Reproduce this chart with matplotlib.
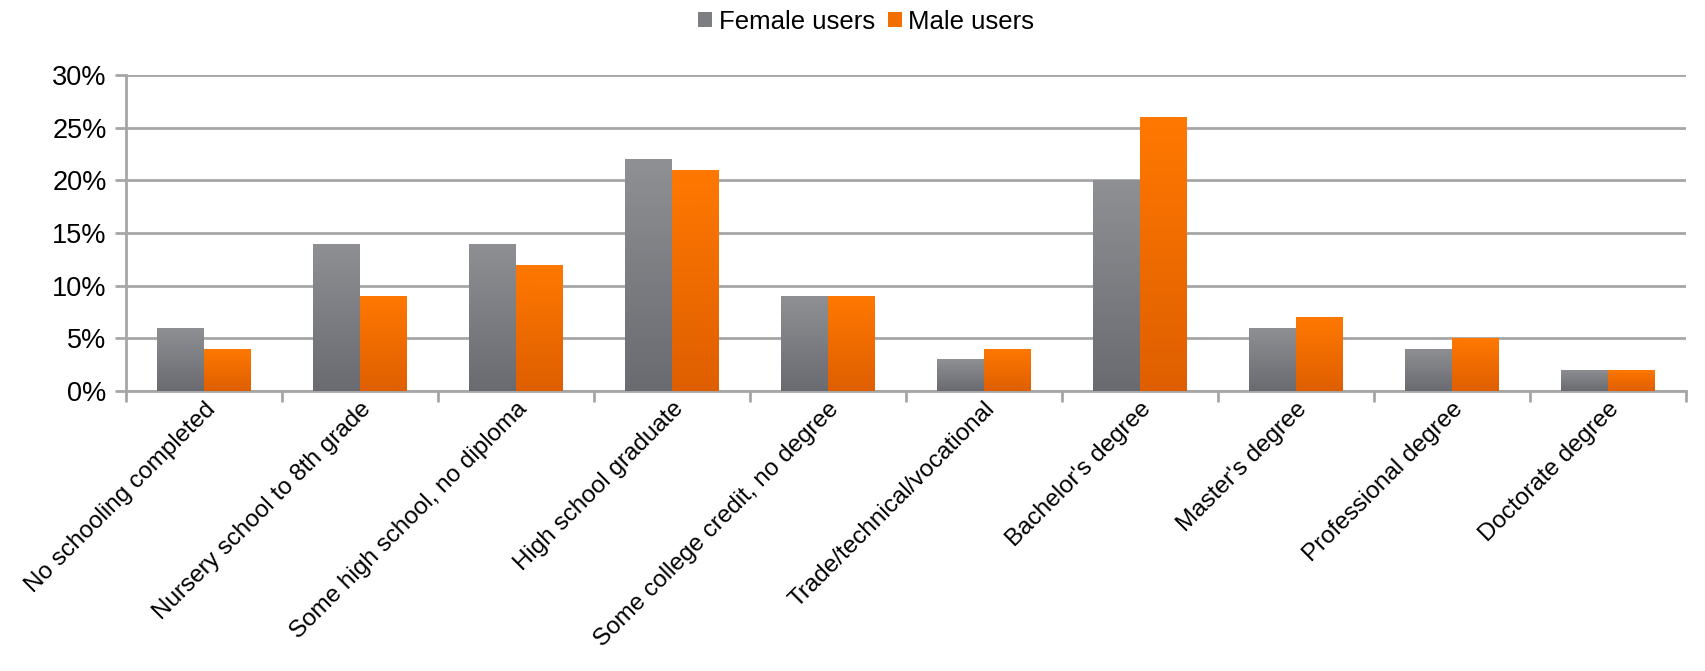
import numpy as np
import matplotlib
matplotlib.use("Agg")
import matplotlib.pyplot as plt
from matplotlib.colors import LinearSegmentedColormap

# data
categories = ["No schooling completed", "Nursery school to 8th grade",
              "Some high school, no diploma", "High school graduate",
              "Some college credit, no degree", "Trade/technical/vocational",
              "Bachelor's degree", "Master's degree", "Professional degree",
              "Doctorate degree"]
female = [6, 14, 14, 22, 9, 3, 20, 6, 4, 2]
male = [4, 9, 12, 21, 9, 4, 26, 7, 5, 2]
yticks = [0, 5, 10, 15, 20, 25, 30]

plt.rcParams['font.family'] = ['Liberation Sans', 'DejaVu Sans']

fig = plt.figure(figsize=(17.05, 6.71), dpi=100)
ax = fig.add_axes([126 / 1705, 1 - 391 / 671, (1686 - 126) / 1705, (391 - 75) / 671])

x = np.arange(len(categories))
w = 0.3
bf = ax.bar(x - w / 2, female, w, color="#7d7e82", label="Female users", zorder=3)
bm = ax.bar(x + w / 2, male, w, color="#f26e00", label="Male users", zorder=3)

# vertical gradient on each bar
grey_cm = LinearSegmentedColormap.from_list("g", ["#6a6b70", "#8e9094"])
orange_cm = LinearSegmentedColormap.from_list("o", ["#df5f00", "#ff7800"])
grad = np.linspace(0, 1, 128).reshape(-1, 1)
for bars, cm in ((bf, grey_cm), (bm, orange_cm)):
    for p in bars:
        x0, y0 = p.get_x(), p.get_y()
        x1, y1 = x0 + p.get_width(), y0 + p.get_height()
        im = ax.imshow(grad, cmap=cm, extent=(x0, x1, y0, y1), origin="lower",
                       aspect="auto", zorder=4)
        im.set_clip_path(p)

ax.set_xlim(-0.5, len(categories) - 0.5)
ax.set_ylim(0, 30)
ax.set_yticks(yticks)
ax.set_yticklabels([f"{v}%" for v in yticks], fontsize=19.5)
ax.yaxis.grid(True, color="#a6a6a6", linewidth=2, zorder=0)

ax.set_xticks(x)
ax.set_xticklabels(categories, rotation=45, ha="right", rotation_mode="anchor",
                   fontsize=17.5)
ax.tick_params(axis="x", length=0, pad=5)
ax.set_xticks(np.arange(-0.5, len(categories) + 0.5, 1), minor=True)
ax.tick_params(axis="x", which="minor", length=8, width=2, color="#a6a6a6")
ax.tick_params(axis="y", length=8, width=2, color="#a6a6a6", pad=6)

for s in ("top", "right"):
    ax.spines[s].set_visible(False)
for s in ("left", "bottom"):
    ax.spines[s].set_color("#a6a6a6")
    ax.spines[s].set_linewidth(2)

fig.legend(handles=[bf, bm], loc="upper center", bbox_to_anchor=(0.508, 1.02),
           ncol=2, frameon=False, fontsize=18.5, handlelength=0.55,
           handleheight=0.55, handletextpad=0.25, columnspacing=0.5)

fig.savefig("out.png", dpi=100)
